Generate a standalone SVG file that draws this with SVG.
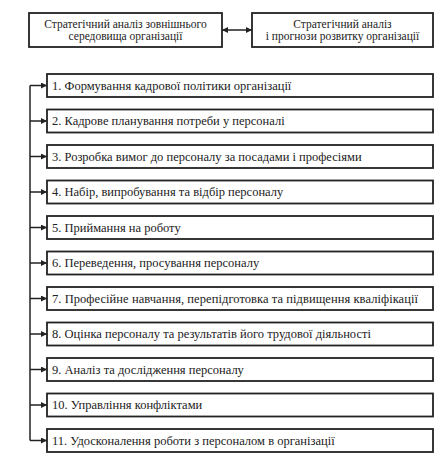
<svg xmlns="http://www.w3.org/2000/svg" width="444" height="459" viewBox="0 0 444 459">
<style>
.box{fill:#fff;stroke:#222;stroke-width:1.8}
.t{font-family:'Times New Roman','Liberation Serif','DejaVu Serif',serif;font-size:12.5px;fill:#222}
.s{font-size:11.5px}
.c{text-anchor:middle}
.ln{stroke:#222;stroke-width:1.5;fill:none}
</style>
<defs>
<marker id="ah" viewBox="0 0 10 10" refX="10" refY="5" markerWidth="8" markerHeight="6" markerUnits="userSpaceOnUse" orient="auto-start-reverse">
<path d="M0,0 L10,5 L0,10 z" fill="#222"/>
</marker>
</defs>
<rect width="444" height="459" fill="#fff"/>
<g id="top-left"><rect class="box" x="29" y="13" width="193" height="34"/>
<text class="t s c" x="125.5" y="28">Стратегічний аналіз зовнішнього</text>
<text class="t s c" x="125.5" y="40">середовища організації</text></g>
<g id="top-right"><rect class="box" x="252" y="13" width="181" height="34"/>
<text class="t s c" x="342.5" y="28">Стратегічний аналіз</text>
<text class="t s c" x="342.5" y="40">і прогнози розвитку організації</text></g>
<g id="n1"><rect class="box" x="47" y="74" width="386" height="23"/><text class="t" x="52" y="89.5">1. Формування кадрової політики організації</text></g>
<g id="n2"><rect class="box" x="47" y="109.5" width="386" height="23"/><text class="t" x="52" y="125">2. Кадрове планування потреби у персоналі</text></g>
<g id="n3"><rect class="box" x="47" y="145" width="386" height="23"/><text class="t" x="52" y="160.5">3. Розробка вимог до персоналу за посадами і професіями</text></g>
<g id="n4"><rect class="box" x="47" y="180.5" width="386" height="23"/><text class="t" x="52" y="196">4. Набір, випробування та відбір персоналу</text></g>
<g id="n5"><rect class="box" x="47" y="216" width="386" height="23"/><text class="t" x="52" y="231.5">5. Приймання на роботу</text></g>
<g id="n6"><rect class="box" x="47" y="251.5" width="386" height="23"/><text class="t" x="52" y="267">6. Переведення, просування персоналу</text></g>
<g id="n7"><rect class="box" x="47" y="287" width="386" height="23"/><text class="t" x="52" y="302.5" textLength="366" lengthAdjust="spacing">7. Професійне навчання, перепідготовка та підвищення кваліфікації</text></g>
<g id="n8"><rect class="box" x="47" y="322.5" width="386" height="23"/><text class="t" x="52" y="338">8. Оцінка персоналу та результатів його трудової діяльності</text></g>
<g id="n9"><rect class="box" x="47" y="358" width="386" height="23"/><text class="t" x="52" y="373.5">9. Аналіз та дослідження персоналу</text></g>
<g id="n10"><rect class="box" x="47" y="393.5" width="386" height="23"/><text class="t" x="52" y="409">10. Управління конфліктами</text></g>
<g id="n11"><rect class="box" x="47" y="429" width="386" height="23"/><text class="t" x="52" y="444.5">11. Удосконалення роботи з персоналом в організації</text></g>
<g id="connectors">
<line class="ln" x1="222" y1="30" x2="252" y2="30" marker-start="url(#ah)" marker-end="url(#ah)"/>
<line class="ln" x1="30" y1="85.5" x2="30" y2="440.5"/>
<line class="ln" x1="30" y1="85.5" x2="47" y2="85.5" marker-end="url(#ah)"/>
<line class="ln" x1="30" y1="121" x2="47" y2="121" marker-end="url(#ah)"/>
<line class="ln" x1="30" y1="156.5" x2="47" y2="156.5" marker-end="url(#ah)"/>
<line class="ln" x1="30" y1="192" x2="47" y2="192" marker-end="url(#ah)"/>
<line class="ln" x1="30" y1="227.5" x2="47" y2="227.5" marker-end="url(#ah)"/>
<line class="ln" x1="30" y1="263" x2="47" y2="263" marker-end="url(#ah)"/>
<line class="ln" x1="30" y1="298.5" x2="47" y2="298.5" marker-end="url(#ah)"/>
<line class="ln" x1="30" y1="334" x2="47" y2="334" marker-end="url(#ah)"/>
<line class="ln" x1="30" y1="369.5" x2="47" y2="369.5" marker-end="url(#ah)"/>
<line class="ln" x1="30" y1="405" x2="47" y2="405" marker-end="url(#ah)"/>
<line class="ln" x1="30" y1="440.5" x2="47" y2="440.5" marker-end="url(#ah)"/>
</g>
</svg>
